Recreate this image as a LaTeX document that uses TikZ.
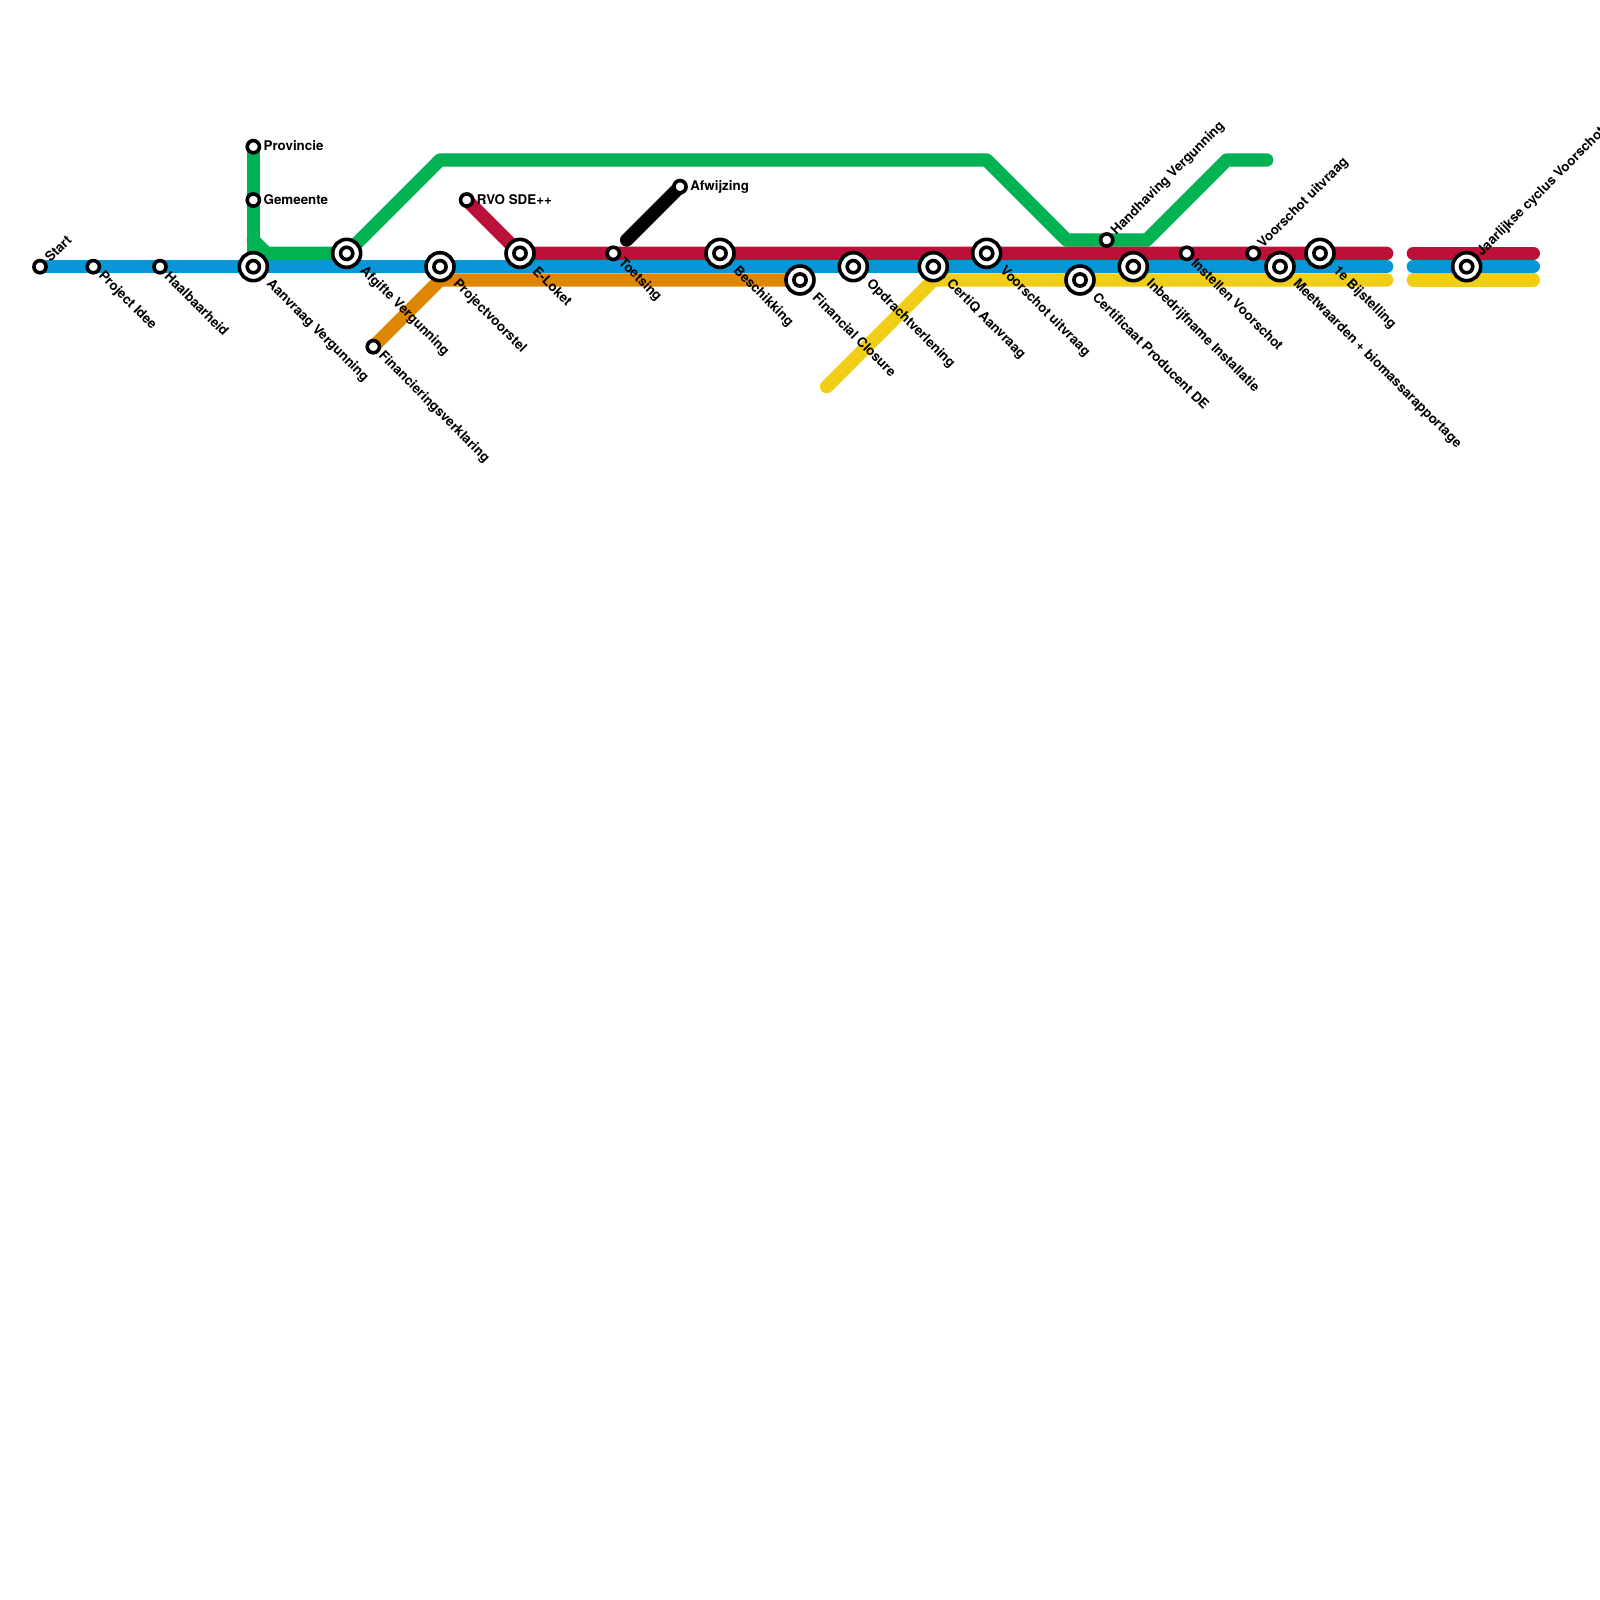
\documentclass[tikz,border=0pt]{standalone}
\usepackage{fontspec}
\setmainfont{TeX Gyre Heros}
\usetikzlibrary{backgrounds}
\definecolor{linegreen}{HTML}{00B251}
\definecolor{lineblue}{HTML}{0896D7}
\definecolor{linered}{HTML}{BD1038}
\definecolor{lineorange}{HTML}{DF8600}
\definecolor{lineyellow}{HTML}{F0CE15}

\begin{document}
\begin{tikzpicture}[
    x=0.13333cm, y=-0.13333cm,
    stopsmall/.style={circle, fill=white, draw=black, line width=0.036cm, inner sep=0pt, outer sep=0pt,
                 minimum size=0.122cm},
    stophub/.style={stopsmall, minimum size=0.28cm,
                 path picture={\draw[line width=0.036cm] (path picture bounding box.center) circle (0.061cm);}},
    metro/.style={line width=0.13333cm, line cap=round, line join=round},
    stoptext/.style={font=\bfseries\fontsize{3.8}{4.6}\selectfont, text=black, inner xsep=0.035cm, inner ysep=0pt},
    textdown/.style={stoptext, rotate=-45, anchor=west},
    textup/.style={stoptext, rotate=45, anchor=west},
    textright/.style={stoptext, anchor=west},
    hubdown/.style={textdown, inner xsep=0.07cm}
]
\useasboundingbox (0,0) rectangle (120,120);

% Stations
\node[stopsmall] (start) at (3,20) {};
\node[stopsmall] (idee) at (7,20) {};
\node[stopsmall] (haalbaar) at (12,20) {};
\node[stophub] (aanvraag) at (19,20) {};
\node[stopsmall] (provincie) at (19,11) {};
\node[stopsmall] (gemeente) at (19,15) {};
\node[stophub] (afgifte) at (26,19) {};
\node[stopsmall] (financiering) at (28,26) {};
\node[stophub] (voorstel) at (33,20) {};
\node[stopsmall] (rvo) at (35,15) {};
\node[stophub] (eloket) at (39,19) {};
\node[stopsmall] (toetsing) at (46,19) {};
\node[stopsmall] (afwijzing) at (51,14) {};
\node[stophub] (beschikking) at (54,19) {};
\node[stophub] (closure) at (60,21) {};
\node[stophub] (opdracht) at (64,20) {};
\node[stophub] (certiq) at (70,20) {};
\node[stophub] (uitvraaga) at (74,19) {};
\node[stophub] (certificaat) at (81,21) {};
\node[stopsmall] (handhaving) at (83,18) {};
\node[stophub] (inbedrijf) at (85,20) {};
\node[stopsmall] (instellen) at (89,19) {};
\node[stopsmall] (uitvraagb) at (94,19) {};
\node[stophub] (meetwaarden) at (96,20) {};
\node[stophub] (bijstelling) at (99,19) {};
\node[stophub] (jaarlijks) at (110,20) {};

% Line ends and bends
\coordinate (bendvert) at (19,18);
\coordinate (bendflat) at (20,19);
\coordinate (greenup) at (33,12);
\coordinate (greenover) at (74,12);
\coordinate (greendip) at (80,18);
\coordinate (greenrise) at (86,18);
\coordinate (greentop) at (92,12);
\coordinate (greenend) at (95,12);
\coordinate (redend) at (104,19);
\coordinate (redstart) at (106,19);
\coordinate (redlast) at (115,19);
\coordinate (blueend) at (104,20);
\coordinate (bluestart) at (106,20);
\coordinate (bluelast) at (115,20);
\coordinate (orangebend) at (33,21);
\coordinate (yellowfree) at (62,29);
\coordinate (yellowbend) at (70,21);
\coordinate (yellowend) at (104,21);
\coordinate (yellowstart) at (106,21);
\coordinate (yellowlast) at (115,21);
\coordinate (blackfree) at (47,18);

% Lines
\begin{scope}[on background layer]
\draw[metro, linegreen] (provincie.center) -- (aanvraag.center);
\draw[metro, linegreen] (bendvert) -- (bendflat) -- (afgifte.center) -- (greenup) -- (greenover)
    -- (greendip) -- (greenrise) -- (greentop) -- (greenend);
\draw[metro, linered] (rvo.center) -- (eloket.center) -- (redend);
\draw[metro, linered] (redstart) -- (redlast);
\draw[metro, lineblue] (start.center) -- (blueend);
\draw[metro, lineblue] (bluestart) -- (bluelast);
\draw[metro, lineorange] (financiering.center) -- (orangebend) -- (closure.center);
\draw[metro, lineyellow] (yellowfree) -- (yellowbend) -- (yellowend);
\draw[metro, lineyellow] (yellowstart) -- (yellowlast);
\draw[metro, black] (blackfree) -- (afwijzing.center);
\end{scope}

% Labels
\node[textup] (startlbl) at (start.45) {Start};
\node[textdown] (ideelbl) at (idee.-45) {Project Idee};
\node[textdown] (haalbaarlbl) at (haalbaar.-45) {Haalbaarheid};
\node[hubdown] (aanvraaglbl) at (aanvraag.-45) {Aanvraag Vergunning};
\node[textright] (provincielbl) at ([yshift=0.01cm]provincie.east) {Provincie};
\node[textright] (gemeentelbl) at (gemeente.east) {Gemeente};
\node[hubdown] (afgiftelbl) at (afgifte.-45) {Afgifte Vergunning};
\node[textdown] (financieringlbl) at (financiering.-45) {Financieringsverklaring};
\node[hubdown] (voorstellbl) at (voorstel.-45) {Projectvoorstel};
\node[textright] (rvolbl) at (rvo.east) {RVO SDE++};
\node[hubdown] (eloketlbl) at (eloket.-45) {E-Loket};
\node[textdown] (toetsinglbl) at (toetsing.-45) {Toetsing};
\node[textright] (afwijzinglbl) at (afwijzing.east) {Afwijzing};
\node[hubdown] (beschikkinglbl) at (beschikking.-45) {Beschikking};
\node[hubdown] (closurelbl) at (closure.-45) {Financial Closure};
\node[hubdown] (opdrachtlbl) at (opdracht.-45) {Opdrachtverlening};
\node[hubdown] (certiqlbl) at (certiq.-45) {CertiQ Aanvraag};
\node[hubdown] (uitvraagalbl) at (uitvraaga.-45) {Voorschot uitvraag};
\node[hubdown] (certificaatlbl) at (certificaat.-45) {Certificaat Producent DE};
\node[textup] (handhavinglbl) at (handhaving.45) {Handhaving Vergunning};
\node[hubdown] (inbedrijflbl) at (inbedrijf.-45) {Inbedrijfname Installatie};
\node[textdown] (instellenlbl) at (instellen.-45) {Instellen Voorschot};
\node[textup] (uitvraagblbl) at (uitvraagb.45) {Voorschot uitvraag};
\node[hubdown] (meetwaardenlbl) at (meetwaarden.-45) {Meetwaarden + biomassarapportage};
\node[hubdown] (bijstellinglbl) at (bijstelling.-45) {1e Bijstelling};
\node[textup] (jaarlijkslbl) at (jaarlijks.45) {Jaarlijkse cyclus Voorschot};
\end{tikzpicture}
\end{document}
